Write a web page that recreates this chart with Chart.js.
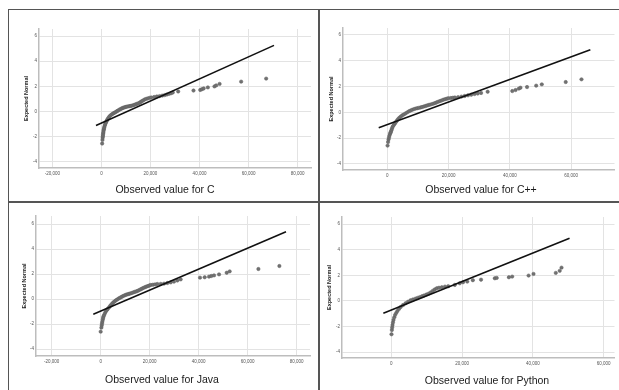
<!DOCTYPE html>
<html><head><meta charset="utf-8">
<script src="https://cdn.jsdelivr.net/npm/chart.js@4.4.1/dist/chart.umd.min.js"></script>
<style>
html,body{margin:0;padding:0;background:#fff;}
body{width:619px;height:390px;position:relative;overflow:hidden;font-family:"Liberation Sans",Arial,sans-serif;}
canvas{position:absolute;}
.ln{position:absolute;background:#555;z-index:5;}
.ttl{position:absolute;font-size:10.5px;color:#1a1a1a;white-space:nowrap;transform:translateX(-50%);line-height:12px;}
</style></head><body>
<canvas id="c1" width="309" height="191" style="left:9px;top:10px"></canvas>
<canvas id="c2" width="300" height="191" style="left:319px;top:10px"></canvas>
<canvas id="c3" width="309" height="187" style="left:9px;top:203px"></canvas>
<canvas id="c4" width="300" height="187" style="left:319px;top:203px"></canvas>
<div class="ln" style="left:8px;top:9px;width:611px;height:1px"></div>
<div class="ln" style="left:8px;top:9px;width:1px;height:381px"></div>
<div class="ln" style="left:318px;top:9px;width:1.5px;height:381px"></div>
<div class="ln" style="left:8px;top:201px;width:611px;height:1.5px"></div>
<div id="t1" class="ttl" style="left:165px;top:183px"></div>
<div id="t2" class="ttl" style="left:481px;top:183px"></div>
<div id="t3" class="ttl" style="left:162px;top:373px"></div>
<div id="t4" class="ttl" style="left:487px;top:374px"></div>
<script>
// ---- Data ----
const panelTitles = ["Observed value for C", "Observed value for C++", "Observed value for Java", "Observed value for Python"];
const yAxisTitle = "Expected Normal";
const yTicks = [-4, -2, 0, 2, 4, 6];
const yTickLabels = ["-4", "-2", "0", "2", "4", "6"];
const xTicksWide = [-20000, 0, 20000, 40000, 60000, 80000];
const xTickLabelsWide = ["-20,000", "0", "20,000", "40,000", "60,000", "80,000"];
const xTicksNarrow = [0, 20000, 40000, 60000];
const xTickLabelsNarrow = ["0", "20,000", "40,000", "60,000"];

// C
const cX = [270,400,480,540,620,700,780,860,960,1080,1200,1360,1550,1780,2000,2250,2550,2900,3270,3700,4150,4630,5100,5550,6000,6450,6900,7350,7800,8250,8700,9150,9600,10080,10600,11200,11700,12200,12780,13300,13850,14400,14950,15500,16000,16500,17000,17600,18250,18900,19600,20300,21500,22600,23700,24800,25800,26700,27600,28400,29100,31300,37550,40300,41000,41700,43400,46100,46800,48200,57000,67200];
const cY = [-2.54,-2.25,-2.08,-1.96,-1.84,-1.72,-1.62,-1.5,-1.4,-1.3,-1.2,-1.08,-0.98,-0.88,-0.78,-0.68,-0.58,-0.48,-0.38,-0.3,-0.23,-0.17,-0.11,-0.06,-0.01,0.05,0.1,0.16,0.2,0.25,0.29,0.32,0.35,0.38,0.4,0.42,0.44,0.46,0.49,0.53,0.57,0.61,0.65,0.7,0.76,0.83,0.89,0.96,1.01,1.05,1.09,1.12,1.16,1.2,1.23,1.27,1.31,1.36,1.41,1.46,1.52,1.6,1.67,1.72,1.78,1.84,1.92,2.0,2.08,2.2,2.38,2.62];
const cLineX = [-2240, 70400];
const cLineY = [-1.11, 5.26];

// C++
const cppX = [100,260,420,560,720,900,1060,1180,1350,1530,1710,1980,2270,2570,2900,3260,3640,4060,4480,4920,5430,5950,6500,7060,7600,8150,8700,9200,9750,10300,10850,11340,11900,12450,12950,13480,14000,14550,15100,15630,16150,16700,17250,17780,18300,18850,19400,19900,20700,21400,22050,23100,24180,25250,26320,27400,28460,29500,30600,32740,40770,41840,42910,43440,45590,48570,50400,58200,63340];
const cppY = [-2.58,-2.3,-2.1,-1.95,-1.8,-1.66,-1.58,-1.5,-1.38,-1.26,-1.14,-1.03,-0.93,-0.83,-0.72,-0.6,-0.49,-0.4,-0.31,-0.23,-0.16,-0.08,0.0,0.08,0.14,0.2,0.25,0.29,0.32,0.35,0.38,0.41,0.45,0.49,0.53,0.57,0.6,0.64,0.68,0.72,0.78,0.83,0.88,0.93,0.98,1.02,1.06,1.09,1.11,1.13,1.15,1.18,1.22,1.27,1.32,1.37,1.42,1.46,1.5,1.6,1.65,1.73,1.84,1.91,1.96,2.07,2.17,2.35,2.56];
const cppLineX = [-2790, 66230];
const cppLineY = [-1.19, 4.86];

// Java
const javaX = [0,280,420,550,690,850,1000,1100,1350,1700,2040,2450,2900,3400,3850,4300,4760,5250,5750,6250,6800,7350,7900,8450,9000,9520,10100,10650,11200,11700,12240,12800,13350,13900,14450,14970,15500,16050,16600,17150,17690,18250,18800,19350,19900,20400,21300,22200,23130,24500,25850,27200,28570,29900,31300,32650,40540,42450,44220,45170,46260,48300,51430,52650,64370,72930];
const javaY = [-2.61,-2.29,-2.12,-1.96,-1.81,-1.65,-1.52,-1.41,-1.3,-1.15,-1.01,-0.9,-0.79,-0.67,-0.56,-0.45,-0.35,-0.26,-0.18,-0.1,-0.03,0.04,0.1,0.16,0.22,0.27,0.32,0.36,0.39,0.42,0.45,0.49,0.53,0.57,0.6,0.64,0.69,0.75,0.8,0.86,0.91,0.96,1.0,1.04,1.08,1.12,1.14,1.17,1.2,1.21,1.23,1.28,1.33,1.39,1.48,1.57,1.71,1.74,1.79,1.84,1.89,1.97,2.1,2.21,2.4,2.64];
const javaLineX = [-3020, 75630];
const javaLineY = [-1.22, 5.38];

// Python
const pyX = [90,190,280,370,500,650,870,1110,1420,1760,2200,2690,3350,4070,4750,5460,6150,6850,7450,8050,8700,9300,9950,10560,11150,11750,12300,12870,13500,14300,15190,16110,17960,19350,20280,21480,23060,25370,29260,29810,33240,34170,38800,40190,46480,47590,48100];
const pyY = [-2.6,-2.27,-2.07,-1.88,-1.68,-1.48,-1.28,-1.09,-0.93,-0.78,-0.62,-0.47,-0.32,-0.18,-0.06,0.05,0.12,0.18,0.24,0.3,0.37,0.43,0.5,0.57,0.67,0.79,0.9,0.99,1.03,1.07,1.12,1.15,1.25,1.38,1.46,1.51,1.62,1.66,1.77,1.8,1.85,1.9,1.98,2.11,2.19,2.35,2.6];
const pyLineX = [-2220, 50370];
const pyLineY = [-0.96, 4.9];

// ---- Build ----
function pts(xs, ys){ return xs.map((x,i)=>({x:x, y:ys[i]})); }

function makeChart(id, xs, ys, lx, ly, cfg){
  const ctx = document.getElementById(id);
  return new Chart(ctx, {
    type: 'scatter',
    data: { datasets: [
      { data: pts(lx, ly), showLine: true, borderColor: '#111', borderWidth: 1.6, pointRadius: 0, fill: false },
      { data: pts(xs, ys), showLine: false, pointRadius: 1.7, pointBackgroundColor: '#717171', pointBorderColor: '#5e5e5e', pointBorderWidth: 0.5 }
    ]},
    options: {
      responsive: false, animation: false, devicePixelRatio: 1,
      layout: { padding: { left: 0, top: cfg.padTop, right: cfg.padRight, bottom: 0 } },
      plugins: { legend: { display: false }, tooltip: { enabled: false }, title: { display: false } },
      scales: {
        x: {
          type: 'linear', min: cfg.xmin, max: cfg.xmax,
          afterFit: s => { s.height = cfg.xh; },
          afterBuildTicks: s => { s.ticks = cfg.xt.map(v => ({ value: v })); },
          ticks: { autoSkip: false, maxRotation: 0, padding: 3, color: '#555', font: { size: 4.5, family: 'Liberation Sans' },
                   callback: (v) => cfg.xl[cfg.xt.indexOf(v)] },
          grid: { color: '#e3e3e3', lineWidth: 1, drawTicks: false },
          border: { display: true, color: '#bdbdbd', width: 1.5 }
        },
        y: {
          type: 'linear', min: cfg.ymin, max: cfg.ymax,
          afterFit: s => { s.width = cfg.yw; },
          afterBuildTicks: s => { s.ticks = yTicks.map(v => ({ value: v })); },
          ticks: { autoSkip: false, padding: 2, color: '#555', font: { size: 4.5, family: 'Liberation Sans' },
                   callback: (v) => yTickLabels[yTicks.indexOf(v)] },
          grid: { color: '#e3e3e3', lineWidth: 1, drawTicks: false },
          border: { display: true, color: '#bdbdbd', width: 1.5 },
          title: { display: true, text: yAxisTitle, color: '#222', font: { size: 5.5, weight: 'bold', family: 'Liberation Sans' }, padding: { top: cfg.ytp, bottom: 0 } }
        }
      }
    }
  });
}

makeChart('c1', cX, cY, cLineX, cLineY, { padTop: 19, padRight: 7, xh: 33, yw: 30, ytp: 13.7, xmin: -25500, xmax: 85500, ymin: -4.48, ymax: 6.56, xt: xTicksWide, xl: xTickLabelsWide });
makeChart('c2', cppX, cppY, cppLineX, cppLineY, { padTop: 18, padRight: 0, xh: 31, yw: 24, ytp: 8.7, xmin: -14440, xmax: 74110, ymin: -4.47, ymax: 6.54, xt: xTicksNarrow, xl: xTickLabelsNarrow });
makeChart('c3', javaX, javaY, javaLineX, javaLineY, { padTop: 13, padRight: 8, xh: 34, yw: 27, ytp: 11.7, xmin: -26400, xmax: 85430, ymin: -4.56, ymax: 6.64, xt: xTicksWide, xl: xTickLabelsWide });
makeChart('c4', pyX, pyY, pyLineX, pyLineY, { padTop: 14, padRight: 0, xh: 32, yw: 23, ytp: 6.7, xmin: -13890, xmax: 63060, ymin: -4.45, ymax: 6.55, xt: xTicksNarrow, xl: xTickLabelsNarrow });

['t1','t2','t3','t4'].forEach((id,i) => { document.getElementById(id).textContent = panelTitles[i]; });
</script>
</body></html>
